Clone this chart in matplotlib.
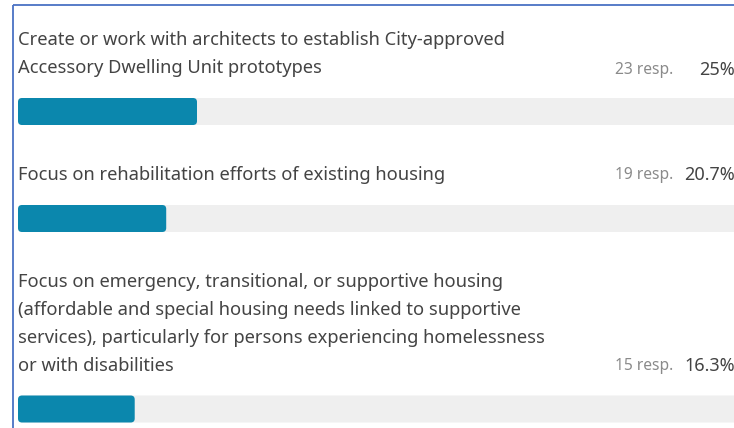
import matplotlib.pyplot as plt
from matplotlib.patches import FancyBboxPatch

labels = [
    "Create or work with architects to establish City-approved\nAccessory Dwelling Unit prototypes",
    "Focus on rehabilitation efforts of existing housing",
    "Focus on emergency, transitional, or supportive housing\n(affordable and special housing needs linked to supportive\nservices), particularly for persons experiencing homelessness\nor with disabilities",
]
responses = [23, 19, 15]
percents = [25, 20.7, 16.3]
pct_labels = ["25%", "20.7%", "16.3%"]

# layout in pixels (figure is 734 x 428)
W, H = 734, 428
x0 = 18
bar_y = [111.5, 218.5, 409]
text_y = [54, 175, 324]
stat_y = [70, 175, 366]
bar_h = 27

fill_c = "#0b87ad"
track_c = "#efefef"
text_c = "#444444"
grey_c = "#8a8a8a"
border_c = "#4a72c4"

plt.rcParams['font.family'] = ['Noto Sans', 'DejaVu Sans']

fig = plt.figure(figsize=(W / 100, H / 100), dpi=100)
ax = fig.add_axes([0, 0, 1, 1])
ax.set_xlim(0, W)
ax.set_ylim(H, 0)
ax.axis('off')

scale = (W - x0) / 100.0
for lab, n, p, pl, by, ty, sy in zip(labels, responses, percents, pct_labels,
                                     bar_y, text_y, stat_y):
    ax.add_patch(FancyBboxPatch((x0, by - bar_h / 2), W - x0 + 10, bar_h,
                                boxstyle="round,pad=0,rounding_size=4",
                                fc=track_c, ec='none'))
    ax.add_patch(FancyBboxPatch((x0, by - bar_h / 2), p * scale, bar_h,
                                boxstyle="round,pad=0,rounding_size=4",
                                fc=fill_c, ec='none'))
    ax.text(x0, ty, lab, ha='left', va='center', fontsize=13.2,
            color=text_c, linespacing=1.72)
    ax.text(673, sy, f"{n} resp.", ha='right', va='center', fontsize=11.2,
            color=grey_c)
    ax.text(735, sy, pl, ha='right', va='center', fontsize=13,
            color=text_c)

# panel border (top and left)
ax.plot([13, W], [5, 5], color=border_c, lw=1.3, solid_capstyle='butt')
ax.plot([13, 13], [5, H], color=border_c, lw=1.3, solid_capstyle='butt')

fig.savefig("out.png", dpi=100)
